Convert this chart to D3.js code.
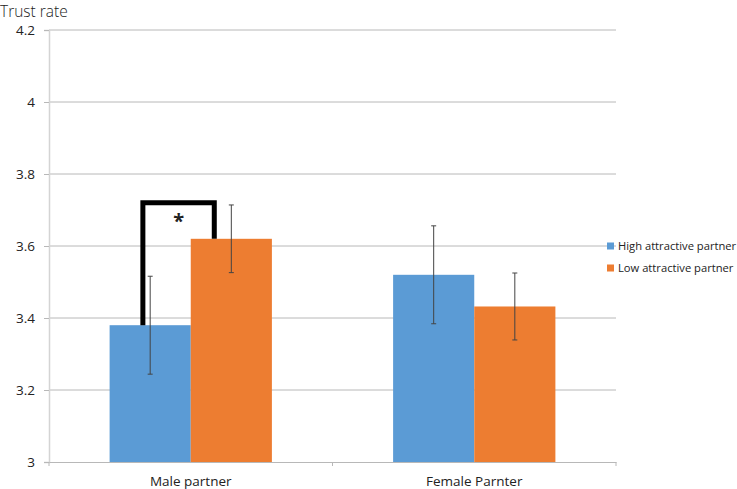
<!DOCTYPE html>
<html><head><meta charset="utf-8">
<script src="https://cdn.jsdelivr.net/npm/d3@7"></script>
<style>
body{margin:0;background:#fff;}
text{font-family:"Open Sans","Liberation Sans",sans-serif;fill:#222;}
</style></head>
<body><svg id="c" width="737" height="489"></svg>
<script>
const categories = ["Male partner", "Female Parnter"];
const seriesNames = ["High attractive partner", "Low attractive partner"];
const seriesColors = ["#5B9BD5", "#ED7D31"];
const highValues = [3.38, 3.52];
const lowValues = [3.62, 3.432];
const highErrors = [0.136, 0.136];
const lowErrors = [0.094, 0.093];
const yTicks = [3, 3.2, 3.4, 3.6, 3.8, 4, 4.2];
const bracketTop = 3.72;

const svg = d3.select("#c");
const margin = {left: 49, right: 121, top: 30, bottom: 27};
const W = 737, H = 489;
const innerW = W - margin.left - margin.right;
const innerH = H - margin.top - margin.bottom;
const g = svg.append("g").attr("transform", `translate(${margin.left},${margin.top})`);

const y = d3.scaleLinear().domain([3, 4.2]).range([innerH, 0]);
const x0 = d3.scaleBand().domain(categories).range([0, innerW]).padding(0);
const x1 = d3.scaleBand().domain(seriesNames).range([0, x0.bandwidth()]).paddingInner(0).paddingOuter(0.747);

// gridlines
g.append("g").selectAll("line").data(yTicks.filter(t => t > 3)).join("line")
  .attr("x1", 0).attr("x2", innerW)
  .attr("y1", d => y(d)).attr("y2", d => y(d))
  .attr("stroke", "#b8b8b8").attr("stroke-width", 1);

// y axis
const yAxis = g.append("g").call(d3.axisLeft(y).tickValues(yTicks).tickSize(5).tickPadding(9)
  .tickFormat(d => d3.format("")(+d.toFixed(1))));
yAxis.select(".domain").attr("stroke", "#d4d4d4").attr("stroke-width", 1.5);
yAxis.selectAll(".tick line").attr("stroke", "#b8b8b8");
yAxis.selectAll(".tick text").attr("font-size", 13.5).attr("fill", "#222")
  .attr("font-family", "'Open Sans', sans-serif");

// bars
const data = categories.map((c, i) => ({
  cat: c,
  vals: [
    {s: seriesNames[0], v: highValues[i], e: highErrors[i], col: seriesColors[0]},
    {s: seriesNames[1], v: lowValues[i], e: lowErrors[i], col: seriesColors[1]}
  ]
}));
const grp = g.append("g").selectAll("g").data(data).join("g")
  .attr("transform", d => `translate(${x0(d.cat)},0)`);
grp.selectAll("rect").data(d => d.vals).join("rect")
  .attr("x", d => x1(d.s)).attr("width", x1.bandwidth())
  .attr("y", d => y(d.v)).attr("height", d => y(3) - y(d.v))
  .attr("fill", d => d.col);

// error bars
const eb = grp.selectAll("g.eb").data(d => d.vals).join("g").attr("class", "eb");
eb.append("line")
  .attr("x1", d => x1(d.s) + x1.bandwidth()/2).attr("x2", d => x1(d.s) + x1.bandwidth()/2)
  .attr("y1", d => y(d.v + d.e)).attr("y2", d => y(d.v - d.e))
  .attr("stroke", "#444").attr("stroke-width", 1);
[1, -1].forEach(sgn => {
  eb.append("line")
    .attr("x1", d => x1(d.s) + x1.bandwidth()/2 - 2.5).attr("x2", d => x1(d.s) + x1.bandwidth()/2 + 2.5)
    .attr("y1", d => y(d.v + sgn*d.e)).attr("y2", d => y(d.v + sgn*d.e))
    .attr("stroke", "#444").attr("stroke-width", 1);
});

// x axis
const xAxis = g.append("g").attr("transform", `translate(0,${innerH})`)
  .call(d3.axisBottom(x0).tickSize(0).tickPadding(14));
xAxis.select(".domain").attr("stroke", "#b8b8b8").attr("stroke-width", 1);
xAxis.selectAll(".tick text").attr("font-size", 13.5).attr("fill", "#222")
  .attr("font-family", "'Open Sans', sans-serif");
g.append("g").selectAll("line").data([0, 1, 2]).join("line")
  .attr("x1", d => d * x0.step()).attr("x2", d => d * x0.step())
  .attr("y1", innerH).attr("y2", innerH + 4)
  .attr("stroke", "#b8b8b8");

// significance bracket
const mc = x0(categories[0]);
const bx1 = mc + x1(seriesNames[0]) + x1.bandwidth() * 0.41;
const bx2 = mc + x1(seriesNames[1]) + x1.bandwidth() * 0.29;
g.append("path")
  .attr("d", `M${bx1},${y(highValues[0])}V${y(bracketTop)}H${bx2}V${y(lowValues[0])}`)
  .attr("fill", "none").attr("stroke", "#000").attr("stroke-width", 5);
g.append("text").attr("x", (bx1 + bx2)/2).attr("y", y(bracketTop) + 25)
  .attr("text-anchor", "middle").attr("font-size", 20).attr("font-weight", "bold")
  .attr("fill", "#000").text("*");

// legend
const leg = svg.append("g").attr("transform", `translate(607,${margin.top + y(3.6)})`);
seriesNames.forEach((s, i) => {
  const r = leg.append("g").attr("transform", `translate(0,${i * 22})`);
  r.append("rect").attr("x", 0).attr("y", -3.5).attr("width", 7).attr("height", 7).attr("fill", seriesColors[i]);
  r.append("text").attr("x", 11).attr("y", 4).attr("font-size", 11.2).attr("fill", "#222").text(s);
});

// title
svg.append("text").attr("x", 0).attr("y", 17).attr("font-size", 15.5).attr("fill", "#222")
  .attr("font-weight", 300).text("Trust rate");
</script></body></html>
